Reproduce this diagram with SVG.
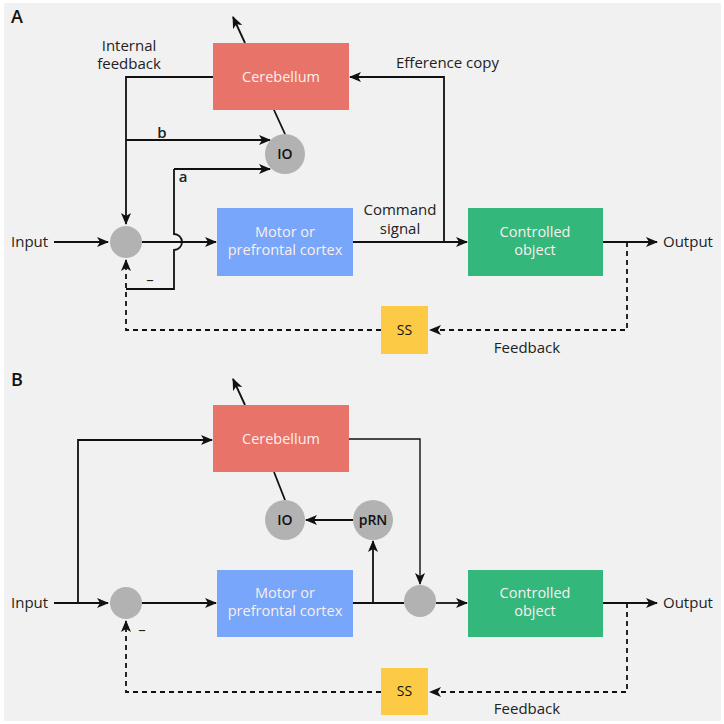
<svg xmlns="http://www.w3.org/2000/svg" width="724" height="724" viewBox="0 0 724 724">
<style>
.bg{fill:#f1f1f1}
.ln{fill:none;stroke:#111;stroke-width:1.8}
.ds{fill:none;stroke:#111;stroke-width:1.8;stroke-dasharray:5 4}
.t{font-family:"Open Sans","DejaVu Sans",sans-serif;font-size:15px;fill:#222}
.tw{font-family:"Open Sans","DejaVu Sans",sans-serif;font-size:14.5px;fill:#fbeeee;text-anchor:middle}
.tl{font-family:"Open Sans","DejaVu Sans",sans-serif;font-size:18px;fill:#111;font-weight:600}
.cb{fill:#e87368}
.mc{fill:#77a6fa}
.co{fill:#33b77b}
.ss{fill:#fdca45}
.nd{fill:#b2b2b2}
.tn{font-family:"Open Sans","DejaVu Sans",sans-serif;font-size:14px;fill:#111;text-anchor:middle;font-weight:600}
</style>
<defs>
<marker id="ar" viewBox="0 0 12 10" refX="11" refY="5" markerWidth="12" markerHeight="10" markerUnits="userSpaceOnUse" orient="auto">
<path d="M0,0 L12,5 L0,10 L3,5 Z" fill="#111"/>
</marker>
</defs>
<rect x="0" y="0" width="724" height="724" fill="#fff"/>
<rect class="bg" x="4" y="3" width="717" height="718"/>
<text class="tl" x="11" y="23">A</text>
<text class="tl" x="11" y="386">B</text>

<g id="connectors">
<!-- Panel A -->
<path class="ln" d="M245,43 L233,17" marker-end="url(#ar)"/>
<path class="ln" d="M274,110 L285,134"/>
<path class="ln" d="M213,77 H126 V224" marker-end="url(#ar)"/>
<path class="ln" d="M126,140 H270" marker-end="url(#ar)"/>
<path class="ln" d="M174,169 H270" marker-end="url(#ar)"/>
<path class="ln" d="M174,169 V234 A8,8 0 0 1 174,250 V289 H126"/>
<path class="ln" d="M54,242 H108" marker-end="url(#ar)"/>
<path class="ln" d="M142,242 H216" marker-end="url(#ar)"/>
<path class="ln" d="M353,242 H467" marker-end="url(#ar)"/>
<path class="ln" d="M444,242 V77 H350" marker-end="url(#ar)"/>
<path class="ln" d="M603,242 H657" marker-end="url(#ar)"/>
<path class="ds" d="M627,242 V330 H430" marker-end="url(#ar)"/>
<path class="ds" d="M381,330 H126 V260" marker-end="url(#ar)"/>
<!-- Panel B -->
<path class="ln" d="M245,405 L233,379" marker-end="url(#ar)"/>
<path class="ln" d="M274,472 L285,500"/>
<path class="ln" d="M353,520 H306" marker-end="url(#ar)"/>
<path class="ln" d="M54,603 H108" marker-end="url(#ar)"/>
<path class="ln" d="M78,603 V440 H212" marker-end="url(#ar)"/>
<path class="ln" d="M142,603 H216" marker-end="url(#ar)"/>
<path class="ln" d="M353,603 H404"/>
<path class="ln" d="M373,603 V541" marker-end="url(#ar)"/>
<path class="ln" style="stroke-width:1.4" d="M349,439 H420 V584" marker-end="url(#ar)"/>
<path class="ln" d="M436,603 H467" marker-end="url(#ar)"/>
<path class="ln" d="M603,603 H657" marker-end="url(#ar)"/>
<path class="ds" d="M627,603 V692 H430" marker-end="url(#ar)"/>
<path class="ds" d="M381,692 H126 V621" marker-end="url(#ar)"/>
</g>

<g id="labels">
<text class="t" x="129" y="51" text-anchor="middle">Internal</text>
<text class="t" x="129" y="69" text-anchor="middle">feedback</text>
<text class="t" x="162" y="138" text-anchor="middle" font-weight="600">b</text>
<text class="t" x="183" y="182" text-anchor="middle" font-weight="600">a</text>
<text class="t" x="150" y="285" text-anchor="middle">–</text>
<text class="t" x="396" y="68">Efference copy</text>
<text class="t" x="400" y="215" text-anchor="middle">Command</text>
<text class="t" x="400" y="234" text-anchor="middle">signal</text>
<text class="t" x="11" y="247">Input</text>
<text class="t" x="663" y="247">Output</text>
<text class="t" x="527" y="353" text-anchor="middle">Feedback</text>
<text class="t" x="11" y="608">Input</text>
<text class="t" x="663" y="608">Output</text>
<text class="t" x="527" y="714" text-anchor="middle">Feedback</text>
<text class="t" x="142" y="635" text-anchor="middle">–</text>
</g>

<g id="cerebellumA"><rect class="cb" x="213" y="43" width="136" height="67"/><text class="tw" x="281" y="82">Cerebellum</text></g>
<g id="ioA"><circle class="nd" cx="285" cy="154" r="20"/><text class="tn" x="285" y="159">IO</text></g>
<g id="sumA"><circle class="nd" cx="126" cy="242" r="16"/></g>
<g id="motorA"><rect class="mc" x="217" y="208" width="136" height="68"/><text class="tw" x="285" y="237">Motor or</text><text class="tw" x="285" y="255">prefrontal cortex</text></g>
<g id="objectA"><rect class="co" x="468" y="208" width="135" height="68"/><text class="tw" x="535" y="237">Controlled</text><text class="tw" x="535" y="255">object</text></g>
<g id="ssA"><rect class="ss" x="381" y="306" width="47" height="48"/><text class="tn" x="404.5" y="335" style="font-weight:400">SS</text></g>

<g id="cerebellumB"><rect class="cb" x="213" y="405" width="136" height="67"/><text class="tw" x="281" y="444">Cerebellum</text></g>
<g id="ioB"><circle class="nd" cx="285" cy="520" r="20"/><text class="tn" x="285" y="525">IO</text></g>
<g id="prnB"><circle class="nd" cx="373" cy="520" r="20"/><text class="tn" x="373" y="525">pRN</text></g>
<g id="sumB"><circle class="nd" cx="126" cy="603" r="16"/></g>
<g id="sum2B"><circle class="nd" cx="420" cy="601" r="16"/></g>
<g id="motorB"><rect class="mc" x="217" y="570" width="136" height="67"/><text class="tw" x="285" y="598">Motor or</text><text class="tw" x="285" y="616">prefrontal cortex</text></g>
<g id="objectB"><rect class="co" x="468" y="570" width="135" height="67"/><text class="tw" x="535" y="598">Controlled</text><text class="tw" x="535" y="616">object</text></g>
<g id="ssB"><rect class="ss" x="381" y="668" width="47" height="47"/><text class="tn" x="404.5" y="696" style="font-weight:400">SS</text></g>
</svg>
